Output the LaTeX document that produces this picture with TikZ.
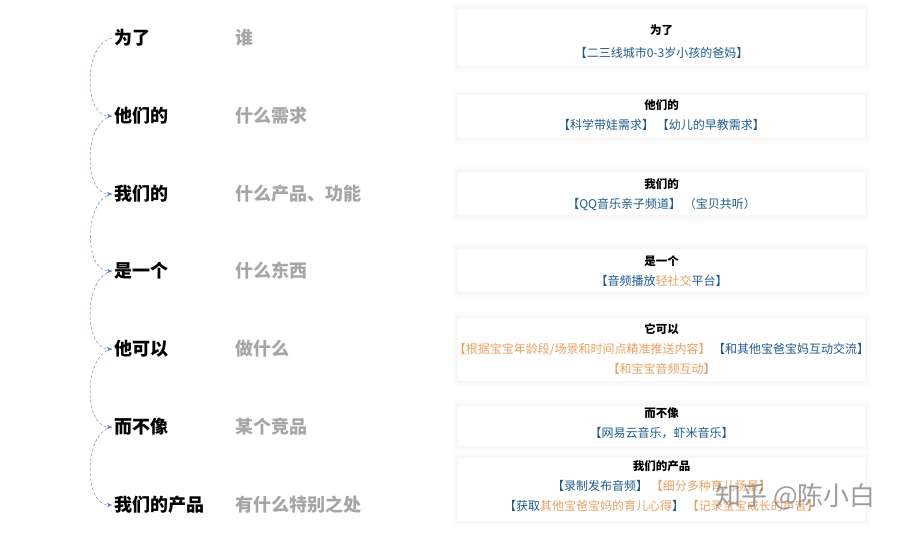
\documentclass[tikz,border=0pt]{standalone}
\usepackage{fontspec}
\setmainfont{Noto Sans CJK SC}
\usetikzlibrary{arrows.meta}

\definecolor{linkblue}{HTML}{5A78C8}
\definecolor{textblue}{HTML}{1F5A8E}
\definecolor{textorange}{HTML}{E9A060}
\definecolor{labelgray}{HTML}{A6A6A6}

\tikzset{
  keyword/.style={anchor=west, inner sep=2pt, font=\fontsize{18}{20}\selectfont\bfseries},
  question/.style={anchor=west, inner sep=0pt, text=labelgray, font=\fontsize{18}{20}\selectfont\bfseries},
  card/.style={fill=white, minimum width=407, inner sep=0pt,
    preaction={draw=black, draw opacity=0.008, line width=12pt},
    preaction={draw=black, draw opacity=0.01, line width=8pt},
    preaction={draw=black, draw opacity=0.012, line width=4pt}},
  cardtext/.style={align=center, inner sep=0pt, text=textblue, font=\fontsize{12}{20}\selectfont},
  link/.style={linkblue, densely dashed, thin, -{Stealth[length=5pt, width=4pt]}},
}
\newcommand{\ttl}[1]{{\color{black}\bfseries\fontsize{11.5}{20}\selectfont #1}}
\newcommand{\og}[1]{{\color{textorange}#1}}

\begin{document}
\begin{tikzpicture}[x=1pt, y=-1pt]
        \useasboundingbox [fill=white] (0,0) rectangle (904,535);

        \node [keyword] (k1) at (112,38) {为了};
        \node [keyword] (k2) at (112,116) {他们的};
        \node [keyword] (k3) at (112,194) {我们的};
        \node [keyword] (k4) at (112,271) {是一个};
        \node [keyword] (k5) at (112,349) {他可以};
        \node [keyword] (k6) at (112,427) {而不像};
        \node [keyword] (k7) at (112,505) {我们的产品};

        \node [question] (q1) at (235,38) {谁};
        \node [question] (q2) at (235,116) {什么需求};
        \node [question] (q3) at (235,194) {什么产品、功能};
        \node [question] (q4) at (235,271) {什么东西};
        \node [question] (q5) at (235,349) {做什么};
        \node [question] (q6) at (235,427) {某个竞品};
        \node [question] (q7) at (235,505) {有什么特别之处};

        \draw [link] (k1.west) to [out=190, in=180, looseness=0.95] (k2.west);
        \draw [link] (k2.west) to [out=190, in=180, looseness=0.95] (k3.west);
        \draw [link] (k3.west) to [out=190, in=180, looseness=0.95] (k4.west);
        \draw [link] (k4.west) to [out=190, in=180, looseness=0.95] (k5.west);
        \draw [link] (k5.west) to [out=190, in=180, looseness=0.95] (k6.west);
        \draw [link] (k6.west) to [out=190, in=180, looseness=0.95] (k7.west);

        \node [card, minimum height=57] (c1) at (661.5,37.5) {};
        \node [card, minimum height=43] (c2) at (661.5,116.5) {};
        \node [card, minimum height=43] (c3) at (661.5,193.5) {};
        \node [card, minimum height=43] (c4) at (661.5,270.5) {};
        \node [card, minimum height=63] (c5) at (661.5,349.5) {};
        \node [card, minimum height=40] (c6) at (661.5,426) {};
        \node [card, minimum height=63] (c7) at (661.5,489.5) {};

        \node [cardtext] (t1) at (661.5,41.5) {\ttl{为了}\\[3pt]【二三线城市0-3岁小孩的爸妈】};
        \node [cardtext] (t2) at (661.5,115) {\ttl{他们的}\\【科学带娃需求】 【幼儿的早教需求】};
        \node [cardtext] (t3) at (661.5,194.5) {\ttl{我们的}\\【QQ音乐亲子频道】 （宝贝共听）};
        \node [cardtext] (t4) at (661.5,271) {\ttl{是一个}\\【音频播放\og{轻社交}平台】};
        \node [cardtext] (t5) at (661.5,349) {\ttl{它可以}\\\og{【根据宝宝年龄段/场景和时间点精准推送内容】} 【和其他宝爸宝妈互动交流】\\\og{【和宝宝音频互动】}};
        \node [cardtext] (t6) at (661.5,423) {\ttl{而不像}\\【网易云音乐，虾米音乐】};
        \node [cardtext] (t7) at (661.5,486) {\ttl{我们的产品}\\【录制发布音频】 \og{【细分多种育儿场景】}\\【获取\og{其他宝爸宝妈的育儿心得}】 \og{【记录宝宝成长的声音】}};

        \node [anchor=west, inner sep=0pt, text=black!45, opacity=0.85, font=\fontsize{26}{28}\selectfont] (mark) at (715,497) {知乎 @陈小白};
      \end{tikzpicture}
\end{document}
